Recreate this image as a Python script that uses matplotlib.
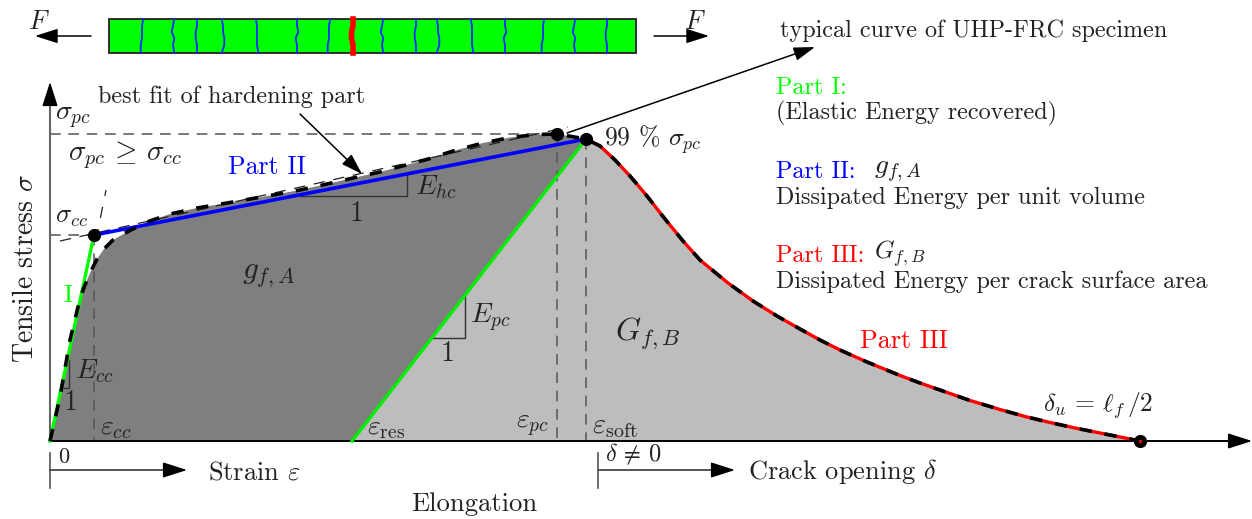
import matplotlib
matplotlib.use("Agg")
import matplotlib.pyplot as plt

plt.rcParams['font.family'] = ['cmr10', 'DejaVu Sans']
plt.rcParams['mathtext.fontset'] = 'cm'
plt.rcParams['axes.unicode_minus'] = False

# Curve (axes units = reference pixels, y grows downward)
rise_x = [50, 60, 70, 78, 83, 90, 97, 104, 113, 127, 147, 170, 197, 227, 273, 300, 327, 353, 380, 410, 430, 453, 483, 510, 537, 557]
rise_y = [441, 397, 340, 307, 290, 273, 259, 249, 240, 232, 222, 214, 208, 203, 195, 190, 184, 178, 172, 164, 158.5, 151, 143, 137.5, 134.5, 134]
peak_x = [586]
peak_y = [139]
soft_x = [586, 600, 615, 630, 647, 665, 683, 700, 728, 753, 777, 800, 820, 840, 867, 900, 920, 940, 970, 1000, 1025, 1050, 1075, 1100, 1120, 1140]
soft_y = [139, 146, 160, 176, 196, 219, 241, 260, 283, 301, 316, 329, 340, 350, 362, 375.5, 383, 390, 400.5, 409.5, 416.5, 422.5, 428, 433, 437, 441]

origin = (50, 441)
residual = (352, 441)
cc_point = (94, 235)
pc_point = (557, 134)
soft_point = (586, 139)
end_point = (1140, 441)

crack_blue_x = [142, 173, 197, 223, 257, 297, 329, 382, 416, 438, 472, 505, 543, 574, 607]
crack_red_x = [353]
crack_y = [19, 26, 32, 38, 45, 53]
crack_shapes = [
    [1, 0, 0, 0, -1, -1],
    [1, 0, -1, 1, 0, 1],
    [0, 0, -1, -1, 0, 0],
    [-1, 0, 0, 1, 1, -1],
    [-1, 0, 0, 0, 0, 1],
    [0, 0, 1, -1, 0, 0],
]

INK = '#222222'
fig = plt.figure(figsize=(12.52, 5.19), dpi=100)
ax = fig.add_axes([0, 0, 1, 1])
ax.set_xlim(0, 1252)
ax.set_ylim(519, 0)
ax.axis('off')

def arrow(p0, p1, color='black', lw=1.1, ms=15, hl=1.0, hw=0.32):
    ax.annotate('', xy=p1, xytext=p0,
                arrowprops=dict(arrowstyle=f'-|>,head_length={hl},head_width={hw}', color=color, lw=lw,
                                mutation_scale=ms, shrinkA=0, shrinkB=0))

def txt(x, y, s, size=17.4, color=INK, ha='left', **kw):
    ax.text(x, y, s, fontsize=size, color=color, ha=ha, va='center', **kw)

# Areas
dark_x = rise_x + peak_x + [residual[0]]
dark_y = rise_y + peak_y + [residual[1]]
ax.fill(dark_x, dark_y, color='#7f7f7f', lw=0, zorder=1)
ax.fill([residual[0]] + soft_x, [residual[1]] + soft_y, color='#bdbdbd', lw=0, zorder=1)

# Guides
dash = dict(color='#555555', lw=1.1, ls=(0, (7, 5)), zorder=2)
ax.plot([origin[0], pc_point[0]], [pc_point[1]] * 2, **dash)
ax.plot([origin[0], cc_point[0]], [cc_point[1]] * 2, **dash)
ax.plot([cc_point[0]] * 2, [cc_point[1], origin[1]], **dash)
ax.plot([pc_point[0]] * 2, [pc_point[1], origin[1]], **dash)
ax.plot([soft_point[0]] * 2, [soft_point[1], origin[1]], **dash)

# Slope triangles
tri = dict(color='#333333', lw=1.0, zorder=2)
ax.plot([300, 407, 407], [196, 196, 175], **tri)
ax.plot([432, 465, 465], [338, 338, 296], **tri)
ax.plot([64, 69, 69], [388, 388, 360], **tri)

# Axes
ax.plot([50, 50], [441, 100], color='#666666', lw=1.5, zorder=3)
arrow((50, 105), (50, 82))
ax.plot([50, 1235], [441, 441], color='black', lw=1.4, zorder=3)
arrow((1225, 441), (1252, 441))

# Best-fit thin dashes
ax.plot([60, 568], [241, 127], color='#222222', lw=0.9, ls=(0, (9, 7)), zorder=3)
ax.plot([96, 106], [240, 190], color='#222222', lw=0.9, ls=(0, (9, 9)), zorder=3)

# Parts
ax.plot([origin[0], cc_point[0]], [origin[1], cc_point[1]], color='#00ff00', lw=2.4, zorder=4)
ax.plot([residual[0], soft_point[0]], [residual[1], soft_point[1]], color='#00ee00', lw=2.4, zorder=4)
ax.plot([cc_point[0], soft_point[0]], [cc_point[1], soft_point[1]], color='#0000ff', lw=2.6, zorder=4)
ax.plot(soft_x, soft_y, color='#ff0000', lw=2.4, zorder=4)

# Typical curve
ax.plot(rise_x + peak_x + soft_x[1:], rise_y + peak_y + soft_y[1:], color='black', lw=2.6,
        ls=(0, (3.4, 3.6)), zorder=5)

# Points
ax.plot([cc_point[0], pc_point[0], soft_point[0], end_point[0]],
        [cc_point[1], pc_point[1], soft_point[1], end_point[1]],
        'o', color='black', ms=9.5, mec='none', zorder=6)
ax.plot([end_point[0]], [end_point[1]], 'o', color='#ff0000', ms=2.5, mec='none', zorder=7)

# Specimen
ax.fill([109, 636, 636, 109], [19, 19, 53, 53], facecolor='#00ff00', edgecolor='#222222', lw=1.3, zorder=1)
for i, cx in enumerate(crack_blue_x):
    shape = crack_shapes[i % len(crack_shapes)]
    ax.plot([cx + 1.3 * w for w in shape], crack_y, color='#0a2cff', lw=1.3, zorder=2)
for cx in crack_red_x:
    ax.plot([cx + 1.5 * w for w in crack_shapes[2]], crack_y, color='#ff0000', lw=4.0, zorder=2)

arrow((91, 36), (35, 36), ms=14)
arrow((654, 36), (709, 36), ms=14)
txt(39, 22, r'$F$', ha='center', size=19)
txt(695, 22, r'$F$', ha='center', size=19)

# Annotation arrows
arrow((300, 114), (362, 174), ms=13)
arrow((567, 133), (815, 47), ms=13)

# Horizontal direction arrows
ax.plot([50, 50], [453, 488], color='#555555', lw=1.2)
ax.plot([50, 170], [470, 470], color='#555555', lw=1.4)
arrow((165, 470), (187, 470))
ax.plot([598, 598], [453, 488], color='#555555', lw=1.2)
ax.plot([598, 720], [470, 470], color='#555555', lw=1.4)
arrow((715, 470), (735, 470))

# Texts
txt(780, 31, 'typical curve of UHP-FRC specimen')
txt(776, 88, 'Part I:', color='#00ff00')
txt(776, 113, '(Elastic Energy recovered)')
txt(776, 172, 'Part II:', color='#0000ff')
txt(874, 171, r'$g_{f,A}$', size=20)
txt(776, 198, 'Dissipated Energy per unit volume')
txt(776, 256, 'Part III:', color='#ff0000')
txt(874, 254, r'$G_{f,B}$', size=18)
txt(776, 282, 'Dissipated Energy per crack surface area')
txt(98, 97, 'best fit of hardening part')
txt(55, 118, r'$\sigma_{pc}$', size=20)
txt(68, 155, r'$\sigma_{pc}\,\geq\,\sigma_{cc}$', size=20.8)
txt(55, 217, r'$\sigma_{cc}$', size=19)
txt(228, 167, 'Part II', color='#0000ff', size=18.6)
txt(63, 296, 'I', color='#00ff00', size=18)
txt(75, 371, r'$E_{cc}$', size=20)
txt(64, 403, '1', size=20)
txt(100, 428, r'$\varepsilon_{cc}$', size=20)
txt(367, 428, r'$\varepsilon_{\mathrm{res}}$', size=20)
txt(516, 426, r'$\varepsilon_{pc}$', size=20)
txt(592, 427, r'$\varepsilon_{\mathrm{soft}}$', size=20.5)
txt(242, 276, r'$g_{f,A}$', size=22.5)
txt(615, 334, r'$G_{f,B}$', size=23)
txt(415, 187, r'$E_{hc}$', size=20)
txt(470, 318, r'$E_{pc}$', size=20)
txt(441, 354, '1', size=20)
txt(350, 214, '1', size=20)
txt(860, 341, 'Part III', color='#ff0000', size=18.8)
txt(1043, 405, r'$\delta_u\,=\,\ell_f\,/2$', size=18.4)
txt(604, 140, r'99 $\%$ $\sigma_{pc}$', size=18.5)
txt(26, 268, r'Tensile stress $\sigma$', ha='center', rotation=90, size=20)
txt(58, 457, '0', size=16)
txt(208, 473, r'Strain $\varepsilon$', size=19)
txt(748, 471, r'Crack opening $\delta$', size=19)
txt(605, 454, r'$\delta\,\neq\,0$', size=17.5)
txt(411, 504, 'Elongation', size=19.2)

fig.savefig('out.png', dpi=100)
